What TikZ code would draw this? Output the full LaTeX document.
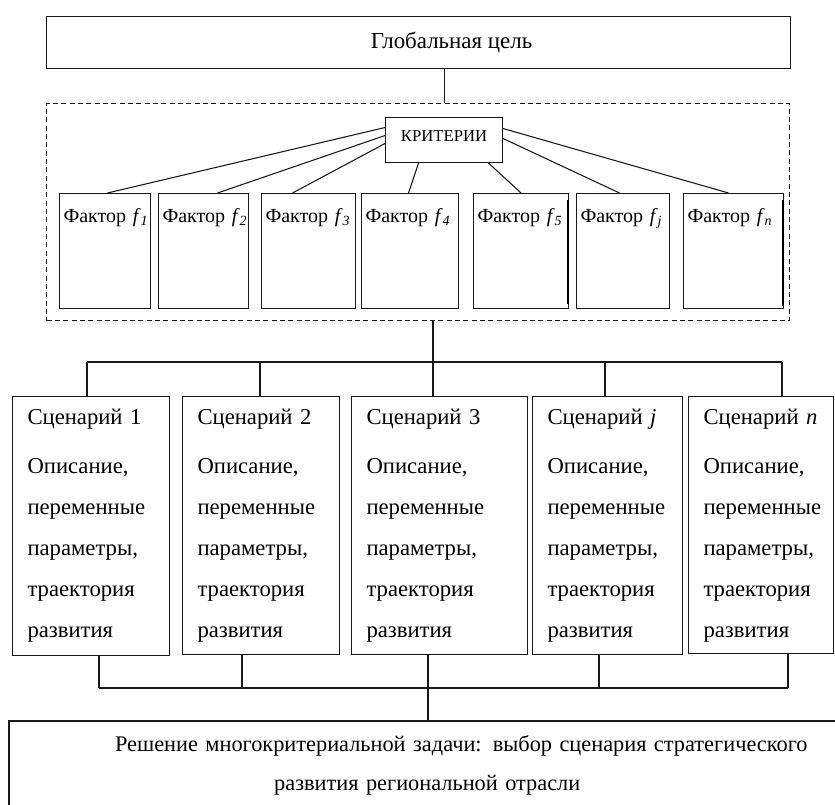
\documentclass[tikz,border=0pt]{standalone}
\usepackage{fontspec}
\setmainfont{Liberation Serif}
\usetikzlibrary{calc}
\begin{document}
\begin{tikzpicture}[x=0.75pt,y=-0.75pt,
  ln/.style={line width=0.8pt, draw=black!90},
  bx/.style={draw=black!90, line width=0.8pt, anchor=north west, inner sep=0pt},
  fbox/.style={bx, align=left, inner xsep=3pt, text height=21.75pt, text depth=64.5pt,
    font=\fontsize{15}{18}\selectfont},
  sbox/.style={bx, align=left, inner xsep=11.25pt, text height=21pt,
    font=\fontsize{17}{30.75}\selectfont},
  dashbox/.style={draw=black!90, line width=0.8pt, dash pattern=on 3.75pt off 2.5pt,
    anchor=north west, inner sep=0pt, minimum width=557.25pt, minimum height=162.75pt}]
\useasboundingbox (0,0) rectangle (835,805);

% global goal
\node[bx, minimum width=558pt, minimum height=39pt, font=\fontsize{17.2}{20}\selectfont]
  (glob) at (46,16) {\hspace*{49.5pt}Глобальная цель};

% dashed frame
\node[dashbox] (dash) at (46,103) {};

% criteria
\node[bx, text width=87.75pt, align=center, text height=18pt, text depth=15.75pt,
  font=\fontsize{12.5}{15}\selectfont] (krit) at (385,117) {КРИТЕРИИ};

% factors
\node[fbox, text width=62.25pt] (f1) at (59,193) {Фактор~\textit{f}\textsubscript{\textit{1}}};
\node[fbox, text width=61.5pt]  (f2) at (158,193) {Фактор~\textit{f}\textsubscript{\textit{2}}};
\node[fbox, text width=64.5pt]  (f3) at (261,193) {Фактор~\textit{f}\textsubscript{\textit{3}}};
\node[fbox, text width=66.75pt] (f4) at (361,193) {Фактор~\textit{f}\textsubscript{\textit{4}}};
\node[fbox, text width=65.25pt] (f5) at (473,193) {Фактор~\textit{f}\textsubscript{\textit{5}}};
\node[fbox, text width=63.75pt] (f6) at (576,193) {Фактор~\textit{f}\textsubscript{\textit{j}}};
\node[fbox, text width=69pt]    (f7) at (683,193) {Фактор~\textit{f}\textsubscript{\textit{n}}};

% thick scan edges
\draw[line width=2pt] ($(f5.north east)+(-1,7)$) -- ($(f5.south east)+(-1,-5)$);
\draw[line width=2pt] ($(f7.north east)+(-1,7)$) -- ($(f7.south east)+(-1,-3)$);

% connectors criteria -> factors
\draw[ln] ($(krit.west)+(0,-12.5)$) -- ($(f1.north)+(2.5,0)$);
\draw[ln] ($(krit.west)+(0,-4.5)$) -- ($(f2.north)+(14,0)$);
\draw[ln] ($(krit.west)+(0,3.5)$) -- ($(f3.north)+(-16,0)$);
\draw[ln] ($(krit.south)+(-25.5,0)$) -- ($(f4.north)+(-1.5,0)$);
\draw[ln] ($(krit.south)+(44.5,0)$) -- (f5.north);
\draw[ln] ($(krit.east)+(0,-1.5)$) -- ($(f6.north)+(-3.5,0)$);
\draw[ln] ($(krit.east)+(0,-11.5)$) -- ($(f7.north)+(-5,0)$);

% global -> frame
\draw[ln] (glob.south -| krit.north) -- (dash.north -| krit.north);

% scenarios
\newcommand\scentext[1]{Сценарий~#1\\[6pt]Описание,\\переменные\\параметры,\\траектория\\развития}
\node[sbox, text width=95.25pt, text depth=173.25pt] (s1) at (12,396) {\scentext{1}};
\node[sbox, text width=95.25pt, text depth=172.5pt]  (s2) at (182,396) {\scentext{2}};
\node[sbox, text width=109.5pt, text depth=172.5pt]  (s3) at (351,396) {\scentext{3}};
\node[sbox, text width=90pt,    text depth=172.5pt]  (s4) at (532,396) {\scentext{\textit{j}}};
\node[sbox, text width=86.25pt, text depth=171.75pt] (s5) at (688,396) {\scentext{\textit{n}}};

% top bus
\coordinate (v1) at (87,362);
\coordinate (v2) at (260,362);
\coordinate (v3) at (433,362);
\coordinate (v4) at (605,362);
\coordinate (v5) at (782,362);
\draw[ln] (dash.south -| v3) -- (v3);
\draw[ln] (v1) -- (v5);
\foreach \i in {1,...,5} { \draw[ln] (v\i) -- (v\i |- s\i.north); }

% result
\node[anchor=north west, inner xsep=0pt, inner ysep=0pt, text width=619.5pt, align=center,
  text height=22.5pt, text depth=40.5pt, font=\fontsize{16.75}{29.25}\selectfont]
  (res) at (9,721)
  {\hspace*{58.5pt}Решение многокритериальной задачи: выбор сценария стратегического\\
   \hspace*{7.5pt}развития региональной отрасли};
\draw[ln] (res.south west) -- (res.north west) -- (res.north east);

% bottom bus
\coordinate (w1) at (99,688);
\coordinate (w2) at (242,688);
\coordinate (w3) at (428,688);
\coordinate (w4) at (599,688);
\coordinate (w5) at (788,688);
\foreach \i in {1,...,5} { \draw[ln] (s\i.south -| w\i) -- (w\i); }
\draw[ln] (w1) -- (w5);
\draw[ln] (w3) -- (w3 |- res.north);
\end{tikzpicture}
\end{document}
